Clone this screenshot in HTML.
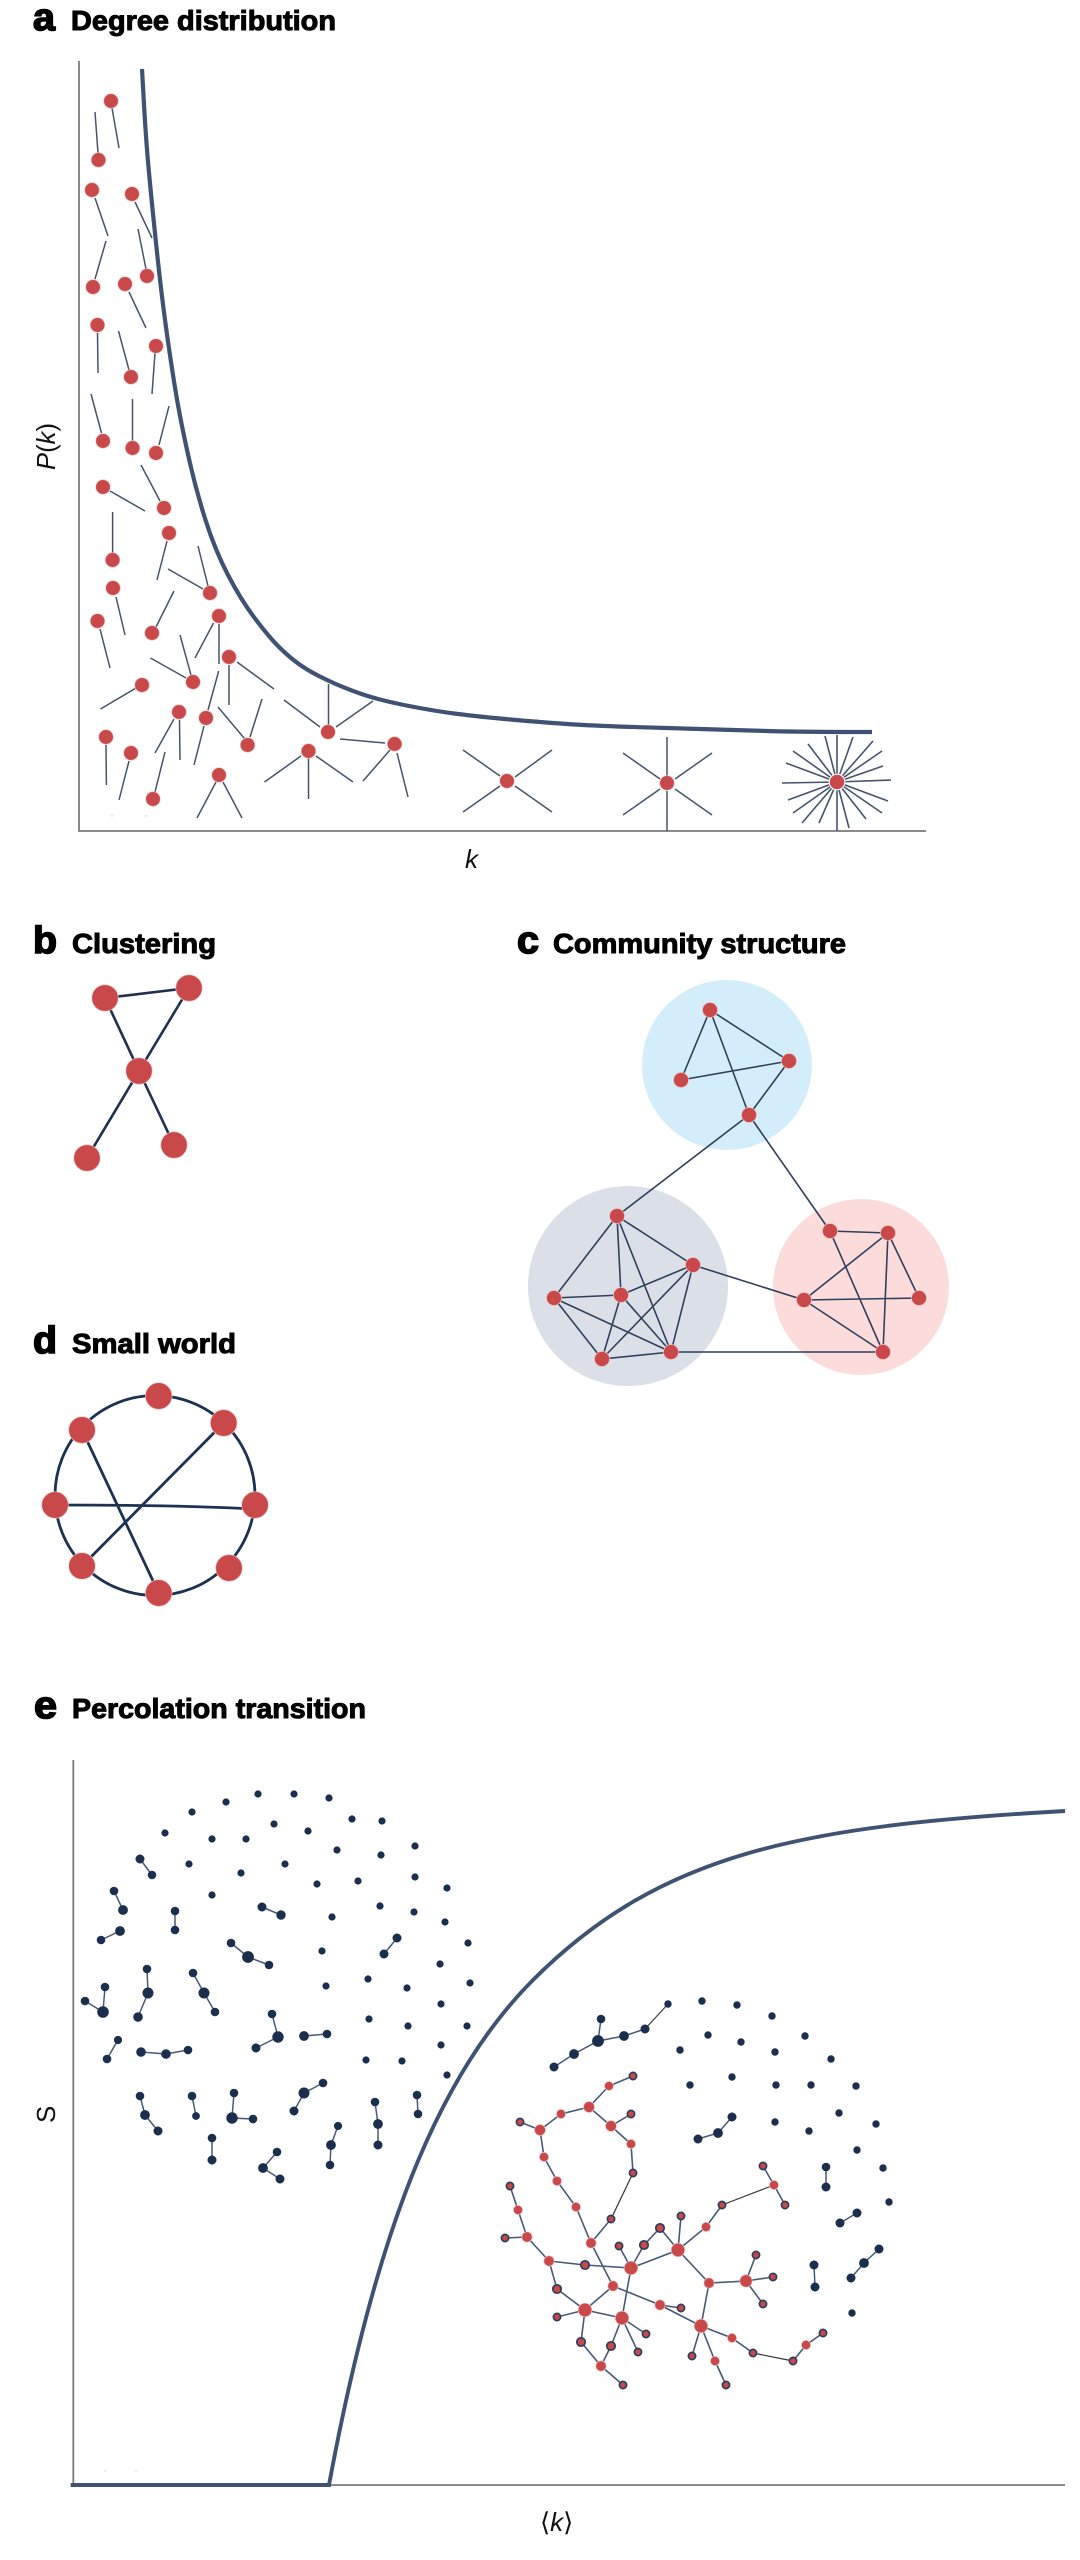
<!DOCTYPE html>
<html>
<head>
<meta charset="utf-8">
<style>
html,body{margin:0;padding:0;background:#fff}
svg{display:block}
text{font-family:"Liberation Sans",sans-serif;fill:#000}
.h{font-weight:bold;font-size:28px;stroke:#000;stroke-width:1}
.l{font-weight:bold;font-size:38px;stroke:#000;stroke-width:1.6}
.ax{font-size:26px;fill:#111}
.i{font-style:italic}
.r circle{fill:#c9484a;stroke:#efc0c0;stroke-width:.7}
.o circle{fill:#c9484a;stroke:#2d3d5c;stroke-width:1.7}
.n circle{fill:#1b2e4e;stroke:#1b2e4e;stroke-width:.6}
</style>
</head>
<body>
<svg xmlns="http://www.w3.org/2000/svg" width="1080" height="2560" viewBox="0 0 1080 2560">
<rect width="1080" height="2560" fill="#fff"/>

<!-- headings -->
<text class="l" x="33" y="30" textLength="22" lengthAdjust="spacingAndGlyphs">a</text>
<text class="h" x="71" y="30" textLength="265" lengthAdjust="spacingAndGlyphs">Degree distribution</text>
<text class="l" x="33" y="953" textLength="24" lengthAdjust="spacingAndGlyphs">b</text>
<text class="h" x="72" y="953" textLength="144" lengthAdjust="spacingAndGlyphs">Clustering</text>
<text class="l" x="517" y="953" textLength="22" lengthAdjust="spacingAndGlyphs">c</text>
<text class="h" x="553" y="953" textLength="293" lengthAdjust="spacingAndGlyphs">Community structure</text>
<text class="l" x="33" y="1353" textLength="24" lengthAdjust="spacingAndGlyphs">d</text>
<text class="h" x="72" y="1353" textLength="164" lengthAdjust="spacingAndGlyphs">Small world</text>
<text class="l" x="34" y="1718" textLength="23" lengthAdjust="spacingAndGlyphs">e</text>
<text class="h" x="72" y="1718" textLength="294" lengthAdjust="spacingAndGlyphs">Percolation transition</text>

<!-- panel a axes -->
<path d="M79 61V831H926" fill="none" stroke="#7b7b7b" stroke-width="1.8"/>
<text class="ax" transform="translate(55,470) rotate(-90)" textLength="47" lengthAdjust="spacingAndGlyphs"><tspan class="i">P</tspan>(<tspan class="i">k</tspan>)</text>
<text class="ax i" x="465" y="868">k</text>

<!-- panel a curve -->
<path d="M142 69L144 104.5Q146 140 148.75 170Q151.5 200 156.75 250Q162 300 168 341.5Q174 383 178.25 406.5Q182.5 430 189.25 460Q196 490 205.5 520Q215 550 228 575Q241 600 255 618.5Q269 637 279 647Q289 657 299.5 664.5Q310 672 327 680Q344 688 361.5 694Q379 700 406.5 705.5Q434 711 458 714Q482 717 516 720Q550 723 575 724.5Q600 726 633.5 727Q667 728 700 729Q733 730 766.5 731Q800 732 872 732" fill="none" stroke="#3f5273" stroke-width="4.2"/>

<!-- panel a links -->
<path fill="none" stroke="#44546f" stroke-width="1.5" d="M112 108L119 148M95 112L98 153M95 198L108 236M135 202L152 238M138 229L146 269M106 241L95 279M129 292L146 328M97.5 333L98 373M155 353L152 394M118.5 331L129 370M91 394L101.5 433M132.5 399V441M169 406L159 445M110 491L145 511M141 465L160 501M167 541L157 580M112.6 512V553M198 546L208 586M168 569L203 589M116 597L125 635M100 629L110 668M174 591L156 627M213.5 623L195 658M219 624V664M229 665V705M237 662L274 689M180 635L191 675M150.5 658L186 678M136 688L100.5 709M174 719L155 753M179.5 720L180 760M218.7 671L208 710M204 726L194 765M218 707L244 738M262 699L250 737M328.5 684V725M284 700L320 727M373 701L336 727M340 739L385 743M390 750L363 781M397 753L408 797M301 756L264.5 782M308.5 758V799M316 756L353 782M106 745L106.4 785M129 761L119 800M165 752L155 792M216 782L197 818M223 782L242 818M463 750L500 776M463 812L500 786M515 777L552 750M515 786L552 812M667 737V776M623 753L660 779M712 753L675 779M623 815L660 789M712 815L675 789M667 791V831"/>
<path fill="none" stroke="#44546f" stroke-width="1.6" d="M837 782L837 735M837 782L825 736M837 782L808 744M837 782L793 751M837 782L786 763M837 782L782 783M837 782L788 800M837 782L793 813M837 782L802 823M837 782L819 823M837 782L837 831M837 782L849 828M837 782L866 819M837 782L882 813M837 782L888 801M837 782L891 780M837 782L883 766M837 782L882 751M837 782L873 741M837 782L853 737"/>
<g class="r"><circle cx="111" cy="101" r="7.3"/><circle cx="98.5" cy="160" r="7.3"/><circle cx="92" cy="190" r="7.3"/><circle cx="132" cy="194" r="7.3"/><circle cx="147" cy="276" r="7.3"/><circle cx="93" cy="287" r="7.3"/><circle cx="125" cy="284" r="7.3"/><circle cx="97.5" cy="325" r="7.3"/><circle cx="156" cy="346" r="7.3"/><circle cx="131" cy="377" r="7.3"/><circle cx="103" cy="441" r="7.3"/><circle cx="132.5" cy="448" r="7.3"/><circle cx="156" cy="453" r="7.3"/><circle cx="103" cy="487" r="7.3"/><circle cx="164" cy="508" r="7.3"/><circle cx="169" cy="533" r="7.3"/><circle cx="112.6" cy="560" r="7.3"/><circle cx="210" cy="593" r="7.3"/><circle cx="113" cy="588" r="7.3"/><circle cx="97.5" cy="621" r="7.3"/><circle cx="152" cy="633" r="7.3"/><circle cx="219" cy="616" r="7.3"/><circle cx="229" cy="657" r="7.3"/><circle cx="193" cy="682" r="7.3"/><circle cx="142" cy="685" r="7.3"/><circle cx="179" cy="712" r="7.3"/><circle cx="206" cy="718" r="7.3"/><circle cx="247.6" cy="745" r="7.3"/><circle cx="328" cy="732" r="7.3"/><circle cx="394.6" cy="744" r="7.3"/><circle cx="308.5" cy="751" r="7.3"/><circle cx="106" cy="737" r="7.3"/><circle cx="131" cy="753" r="7.3"/><circle cx="153" cy="799" r="7.3"/><circle cx="219" cy="775" r="7.3"/><circle cx="507" cy="781" r="7.3"/><circle cx="667" cy="783" r="7.3"/></g>
<circle cx="837" cy="782" r="8.4" fill="#fff"/>
<circle cx="837" cy="782" r="7.3" fill="#c9484a"/>
<circle cx="112" cy="816" r=".7" fill="#bbb"/><circle cx="146" cy="816" r=".7" fill="#bbb"/>

<!-- panel b -->
<path fill="none" stroke="#1f3050" stroke-width="2.6" d="M105 998L189 988L139 1071L105 998M139 1071L87 1158M139 1071L174 1145"/>
<g class="r"><circle cx="105" cy="998" r="13.2"/><circle cx="189" cy="988" r="13.2"/><circle cx="139" cy="1071" r="13.2"/><circle cx="87" cy="1158" r="13.2"/><circle cx="174" cy="1145" r="13.2"/></g>

<!-- panel c -->
<circle cx="727" cy="1065" r="85" fill="#d4edfb"/>
<circle cx="628" cy="1286" r="100" fill="#dadfe8"/>
<circle cx="861" cy="1287" r="88" fill="#fbdcdb"/>
<path fill="none" stroke="#2f3f5c" stroke-width="1.6" d="M710 1010L789 1061M710 1010L681 1080M710 1010L749 1115M681 1080L789 1061M789 1061L749 1115M749 1115L617 1216M749 1115L830 1231M617 1216L554 1298M617 1216L621 1295M617 1216L671 1352M617 1216L693 1265M693 1265L621 1295M693 1265L602 1359M693 1265L671 1352M693 1265L804 1300M621 1295L554 1298M621 1295L602 1359M621 1295L671 1352M554 1298L602 1359M554 1298L671 1352M602 1359L671 1352M671 1352L883 1352M830 1231L888 1233M830 1231L883 1352M888 1233L804 1300M888 1233L883 1352M888 1233L919 1298M804 1300L919 1298M804 1300L883 1352"/>
<g class="r"><circle cx="710" cy="1010" r="7.5"/><circle cx="789" cy="1061" r="7.5"/><circle cx="681" cy="1080" r="7.5"/><circle cx="749" cy="1115" r="7.5"/><circle cx="617" cy="1216" r="7.5"/><circle cx="693" cy="1265" r="7.5"/><circle cx="621" cy="1295" r="7.5"/><circle cx="554" cy="1298" r="7.5"/><circle cx="602" cy="1359" r="7.5"/><circle cx="671" cy="1352" r="7.5"/><circle cx="830" cy="1231" r="7.5"/><circle cx="888" cy="1233" r="7.5"/><circle cx="804" cy="1300" r="7.5"/><circle cx="919" cy="1298" r="7.5"/><circle cx="883" cy="1352" r="7.5"/></g>

<!-- panel d -->
<circle cx="155" cy="1495.5" r="100" fill="none" stroke="#1d3252" stroke-width="2.8"/>
<path fill="none" stroke="#1d3252" stroke-width="2.8" d="M82 1430L158.7 1593M223.7 1423L82 1566M55 1505Q180 1505 255 1509"/>
<g class="r"><circle cx="158.7" cy="1396" r="13.3"/><circle cx="223.7" cy="1423" r="13.3"/><circle cx="255" cy="1505" r="13.3"/><circle cx="229" cy="1568" r="13.3"/><circle cx="158.7" cy="1593" r="13.3"/><circle cx="82" cy="1566" r="13.3"/><circle cx="55" cy="1505" r="13.3"/><circle cx="82" cy="1430" r="13.3"/></g>

<!-- panel e axes -->
<path d="M73.3 1760V2485H1065" fill="none" stroke="#7b7b7b" stroke-width="1.8"/>
<path d="M70.7 2485H329C375 2237 436 2077 533 1980C660 1853 800 1826 1065 1811" fill="none" stroke="#3f5273" stroke-width="3.9"/>
<text class="ax" transform="translate(55,2123) rotate(-90)">S</text>
<text class="ax" x="540" y="2531">⟨<tspan class="i">k</tspan>⟩</text>
<circle cx="105" cy="2471" r=".7" fill="#c8c8dd"/><circle cx="136" cy="2471" r=".7" fill="#c8c8dd"/>

<!-- panel e left cluster links -->
<path fill="none" stroke="#46597a" stroke-width="1.5" d="M140 1859L152 1875M114 1891L123 1910M175 1911V1930M101 1940L120 1931M262 1907L281 1915M231 1943L248 1957L269 1965M397 1938L384 1954M193 1973L204 1993L215 2012M147 1969L148 1993L138 2017M105 1987L103 2012L85 2001M272 2014L278 2037L256 2048M304 2036L327 2034M118 2040L107 2059M141 2052L166 2054L188 2050M140 2096L145 2115L158 2131M192 2096L196 2116M234 2093L232 2118L253 2119M323 2083L304 2093L294 2111M375 2102L378 2124L378 2145M417 2095L418 2114M338 2126L331 2145L330 2165M212 2138V2160M277 2152L263 2168L280 2179"/>
<g class="n">
<circle cx="258" cy="1794" r="3.3"/><circle cx="294" cy="1794" r="3.3"/><circle cx="329" cy="1798" r="3.3"/><circle cx="226" cy="1802" r="3.3"/><circle cx="192" cy="1812" r="3.3"/><circle cx="165" cy="1833" r="3.3"/><circle cx="352" cy="1819" r="3.3"/><circle cx="382" cy="1821" r="3.3"/><circle cx="274" cy="1824" r="3.3"/><circle cx="308" cy="1831" r="3.3"/><circle cx="212" cy="1839" r="3.3"/><circle cx="246" cy="1839" r="3.3"/><circle cx="337" cy="1850" r="3.3"/><circle cx="415" cy="1846" r="3.3"/><circle cx="381" cy="1855" r="3.3"/><circle cx="189" cy="1864" r="3.3"/><circle cx="241" cy="1873" r="3.3"/><circle cx="285" cy="1864" r="3.3"/><circle cx="317" cy="1884" r="3.3"/><circle cx="358" cy="1881" r="3.3"/><circle cx="415" cy="1877" r="3.3"/><circle cx="447" cy="1888" r="3.3"/><circle cx="212" cy="1895" r="3.3"/><circle cx="380" cy="1906" r="3.3"/><circle cx="414" cy="1912" r="3.3"/><circle cx="445" cy="1922" r="3.3"/><circle cx="332" cy="1917" r="3.3"/><circle cx="468" cy="1943" r="3.3"/><circle cx="322" cy="1951" r="3.3"/><circle cx="440" cy="1964" r="3.3"/><circle cx="470" cy="1983" r="3.3"/><circle cx="326" cy="1986" r="3.3"/><circle cx="368" cy="1979" r="3.3"/><circle cx="407" cy="1988" r="3.3"/><circle cx="441" cy="2004" r="3.3"/><circle cx="369" cy="2019" r="3.3"/><circle cx="408" cy="2026" r="3.3"/><circle cx="467" cy="2026" r="3.3"/><circle cx="441" cy="2045" r="3.3"/><circle cx="366" cy="2060" r="3.3"/><circle cx="402" cy="2061" r="3.3"/><circle cx="447" cy="2075" r="3.3"/>
<circle cx="140" cy="1859" r="4.2"/><circle cx="152" cy="1875" r="4"/><circle cx="114" cy="1891" r="4"/><circle cx="123" cy="1910" r="4.6"/><circle cx="175" cy="1911" r="4"/><circle cx="175" cy="1930" r="4"/><circle cx="101" cy="1940" r="4"/><circle cx="120" cy="1931" r="4.6"/><circle cx="262" cy="1907" r="4.2"/><circle cx="281" cy="1915" r="4.4"/><circle cx="231" cy="1943" r="4"/><circle cx="248" cy="1957" r="5.6"/><circle cx="269" cy="1965" r="4"/><circle cx="397" cy="1938" r="4.2"/><circle cx="384" cy="1954" r="4.2"/><circle cx="193" cy="1973" r="4"/><circle cx="204" cy="1993" r="5.2"/><circle cx="215" cy="2012" r="4"/><circle cx="147" cy="1969" r="4"/><circle cx="148" cy="1993" r="5.2"/><circle cx="138" cy="2017" r="4.5"/><circle cx="105" cy="1987" r="4"/><circle cx="103" cy="2012" r="5.5"/><circle cx="85" cy="2001" r="4"/><circle cx="272" cy="2014" r="4"/><circle cx="278" cy="2037" r="5.4"/><circle cx="256" cy="2048" r="4.2"/><circle cx="304" cy="2036" r="4.6"/><circle cx="327" cy="2034" r="4"/><circle cx="118" cy="2040" r="3.8"/><circle cx="107" cy="2059" r="4"/><circle cx="141" cy="2052" r="4.5"/><circle cx="166" cy="2054" r="4.5"/><circle cx="188" cy="2050" r="4"/><circle cx="140" cy="2096" r="4"/><circle cx="145" cy="2115" r="4.6"/><circle cx="158" cy="2131" r="4.2"/><circle cx="192" cy="2096" r="4"/><circle cx="196" cy="2116" r="3.6"/><circle cx="234" cy="2093" r="4"/><circle cx="232" cy="2118" r="5.4"/><circle cx="253" cy="2119" r="4"/><circle cx="323" cy="2083" r="4"/><circle cx="304" cy="2093" r="5.2"/><circle cx="294" cy="2111" r="4.2"/><circle cx="375" cy="2102" r="4"/><circle cx="378" cy="2124" r="4.6"/><circle cx="378" cy="2145" r="4.2"/><circle cx="417" cy="2095" r="4"/><circle cx="418" cy="2114" r="4"/><circle cx="338" cy="2126" r="3.8"/><circle cx="331" cy="2145" r="4.6"/><circle cx="330" cy="2165" r="4"/><circle cx="212" cy="2138" r="4"/><circle cx="212" cy="2160" r="4.2"/><circle cx="277" cy="2152" r="4"/><circle cx="263" cy="2168" r="4.6"/><circle cx="280" cy="2179" r="4.2"/>
</g>

<!-- panel e right cluster: navy -->
<path fill="none" stroke="#46597a" stroke-width="1.5" d="M554 2067L574 2054L598 2041L624 2036L645 2029M601 2019L598 2041M698 2139L718 2133L732 2117M826 2167V2187M840 2223L857 2213M814 2265L815 2287M851 2278L864 2263L879 2249"/>
<path fill="none" stroke="#3a3a3a" stroke-width="1.2" d="M645 2029L668 2004"/>
<g class="n">
<circle cx="554" cy="2067" r="4.2"/><circle cx="574" cy="2054" r="4.6"/><circle cx="598" cy="2041" r="5.6"/><circle cx="624" cy="2036" r="4.6"/><circle cx="645" cy="2029" r="4.2"/><circle cx="668" cy="2004" r="3.4"/><circle cx="601" cy="2019" r="4"/>
<circle cx="702" cy="2001" r="3.4"/><circle cx="737" cy="2005" r="3.4"/><circle cx="772" cy="2016" r="3.4"/><circle cx="708" cy="2035" r="3.4"/><circle cx="741" cy="2042" r="3.4"/><circle cx="805" cy="2036" r="3.4"/><circle cx="680" cy="2050" r="3.4"/><circle cx="775" cy="2052" r="3.4"/><circle cx="831" cy="2059" r="3.4"/><circle cx="690" cy="2085" r="3.4"/><circle cx="732" cy="2077" r="3.4"/><circle cx="776" cy="2085" r="3.4"/><circle cx="811" cy="2085" r="3.4"/><circle cx="856" cy="2086" r="3.4"/><circle cx="839" cy="2113" r="3.4"/><circle cx="876" cy="2124" r="3.4"/><circle cx="775" cy="2122" r="3.4"/><circle cx="809" cy="2131" r="3.4"/><circle cx="857" cy="2150" r="3.4"/><circle cx="883" cy="2168" r="3.4"/><circle cx="889" cy="2202" r="3.4"/><circle cx="852" cy="2313" r="3.4"/>
<circle cx="698" cy="2139" r="4.2"/><circle cx="718" cy="2133" r="4.6"/><circle cx="732" cy="2117" r="4.2"/><circle cx="826" cy="2167" r="4"/><circle cx="826" cy="2187" r="4.2"/><circle cx="840" cy="2223" r="4.2"/><circle cx="857" cy="2213" r="4.2"/><circle cx="814" cy="2265" r="4.2"/><circle cx="815" cy="2287" r="4.2"/><circle cx="851" cy="2278" r="4.2"/><circle cx="864" cy="2263" r="4.6"/><circle cx="879" cy="2249" r="4.2"/>
</g>

<!-- panel e right cluster: red component links -->
<path fill="none" stroke="#46597a" stroke-width="1.6" d="M633 2076L609 2086L589 2107L561 2114L540 2130L520 2122M589 2107L611 2126L631 2114M611 2126L631 2144L633 2173M540 2130L544 2157L557 2181L576 2207L591 2243L613 2286M611 2219L591 2243M510 2186L518 2210L527 2237L505 2238M527 2237L549 2261L585 2265L631 2268L619 2246M631 2268L644 2245L660 2228L678 2250L681 2216M631 2268L678 2250L706 2227L722 2205M774 2185L763 2166M774 2185L785 2205M678 2250L709 2283L746 2281L756 2255M746 2281L773 2277M746 2281L763 2304M709 2283L701 2326M549 2261L557 2289L585 2310L613 2286L660 2305L681 2308M585 2310L557 2317M585 2310L622 2318L631 2268M585 2310L581 2342L601 2366L611 2346L622 2318L638 2352M622 2318L646 2334M601 2366L623 2385M660 2305L701 2326L732 2338L753 2353M793 2361L806 2345L823 2333M701 2326L692 2356M701 2326L715 2361L726 2385"/>
<path fill="none" stroke="#333" stroke-width="1.2" d="M633 2173L611 2219M722 2205L774 2185M753 2353L793 2361"/>
<g class="r">
<circle cx="609" cy="2086" r="4.5"/><circle cx="589" cy="2107" r="5.5"/><circle cx="561" cy="2114" r="4.6"/><circle cx="540" cy="2130" r="5.5"/><circle cx="611" cy="2126" r="5.5"/><circle cx="631" cy="2144" r="4.6"/><circle cx="544" cy="2157" r="4.6"/><circle cx="557" cy="2181" r="4.6"/><circle cx="576" cy="2207" r="4.6"/><circle cx="591" cy="2243" r="5.2"/><circle cx="518" cy="2210" r="4.6"/><circle cx="527" cy="2237" r="5.2"/><circle cx="549" cy="2261" r="5.2"/><circle cx="631" cy="2268" r="6.8"/><circle cx="678" cy="2250" r="6.8"/><circle cx="706" cy="2227" r="4.6"/><circle cx="774" cy="2185" r="4.6"/><circle cx="613" cy="2286" r="5.2"/><circle cx="585" cy="2310" r="6.8"/><circle cx="622" cy="2318" r="6.8"/><circle cx="601" cy="2366" r="5.2"/><circle cx="660" cy="2305" r="5.2"/><circle cx="701" cy="2326" r="6.8"/><circle cx="709" cy="2283" r="5.2"/><circle cx="746" cy="2281" r="6.2"/><circle cx="732" cy="2338" r="4.6"/><circle cx="806" cy="2345" r="4.6"/><circle cx="715" cy="2361" r="4.6"/>
</g>
<g class="o">
<circle cx="633" cy="2076" r="3.6"/><circle cx="520" cy="2122" r="3.6"/><circle cx="631" cy="2114" r="3.6"/><circle cx="633" cy="2173" r="3.6"/><circle cx="611" cy="2219" r="3.6"/><circle cx="510" cy="2186" r="3.6"/><circle cx="505" cy="2238" r="3.6"/><circle cx="585" cy="2265" r="4.2"/><circle cx="619" cy="2246" r="3.6"/><circle cx="644" cy="2245" r="4.2"/><circle cx="660" cy="2228" r="4.2"/><circle cx="681" cy="2216" r="3.6"/><circle cx="722" cy="2205" r="3.6"/><circle cx="763" cy="2166" r="3.6"/><circle cx="785" cy="2205" r="3.6"/><circle cx="557" cy="2289" r="4.2"/><circle cx="557" cy="2317" r="3.6"/><circle cx="581" cy="2342" r="4.2"/><circle cx="611" cy="2346" r="4.2"/><circle cx="623" cy="2385" r="3.6"/><circle cx="638" cy="2352" r="3.6"/><circle cx="646" cy="2334" r="3.6"/><circle cx="681" cy="2308" r="3.6"/><circle cx="756" cy="2255" r="3.6"/><circle cx="773" cy="2277" r="3.6"/><circle cx="763" cy="2304" r="3.6"/><circle cx="753" cy="2353" r="3.6"/><circle cx="793" cy="2361" r="3.6"/><circle cx="823" cy="2333" r="3.6"/><circle cx="692" cy="2356" r="3.6"/><circle cx="726" cy="2385" r="3.6"/>
</g>
</svg>
</body>
</html>
